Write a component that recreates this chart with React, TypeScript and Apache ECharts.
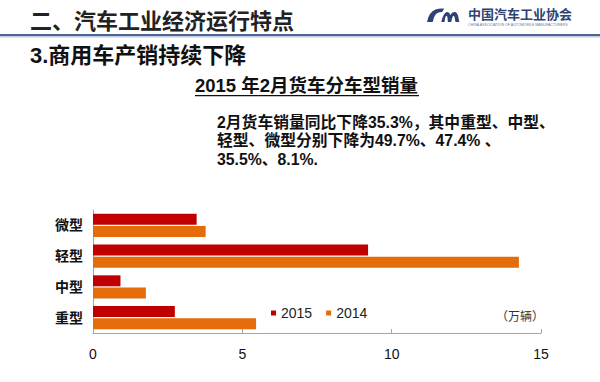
import React, { useEffect, useRef } from "react";
import * as echarts from "echarts";

const categories = ["重型", "中型", "轻型", "微型"];
const sales2015 = [2.74, 0.92, 9.21, 3.47];
const sales2014 = [5.46, 1.77, 14.26, 3.77];
const xTicks = { min: 0, max: 15, interval: 5 };
const seriesNames = ["2015", "2014"];

const FONT = '"Liberation Sans", "Noto Sans CJK SC", sans-serif';

const logoPath =
  "M0,14 Q2,4 9,1.5 Q13,0 18,0.5 L16,4 Q12,3.8 9.5,6 Q7,8.5 6,14 Z " +
  "M15,14 Q17,5 21,4 Q23.5,3.5 24.5,7 Q26.5,3.5 29.5,4 Q32,4.5 33,9 L34,14 L30,14 L29,9 Q28.5,7.5 27.5,8 Q26.5,9 25.5,14 L22,14 L21.5,9 Q21,7.5 20,8 Q19,9 18.5,14 Z";

echarts.graphic.registerShape("logo", (echarts.graphic as any).extendPath(logoPath, {}));

export default function App() {
  const ref = useRef<HTMLDivElement>(null);
  useEffect(() => {
    if (!ref.current) return;
    const chart = echarts.init(ref.current, null, { renderer: "svg" });
    chart.setOption({
      animation: false,
      backgroundColor: "#ffffff",
      textStyle: { fontFamily: FONT },
      grid: { left: 93, right: 59, top: 210, bottom: 49 },
      legend: {
        data: seriesNames,
        left: 266,
        top: 301,
        itemWidth: 5,
        itemHeight: 5,
        itemGap: 14,
        icon: "rect",
        textStyle: { fontSize: 14, color: "#222", fontFamily: FONT },
      },
      xAxis: {
        type: "value",
        min: xTicks.min,
        max: xTicks.max,
        interval: xTicks.interval,
        axisLine: { show: true, lineStyle: { color: "#a6a6a6", width: 1 } },
        axisTick: { show: true, inside: true, length: 4, lineStyle: { color: "#a6a6a6" } },
        splitLine: { show: false },
        axisLabel: { fontSize: 14, color: "#111", margin: 14, fontFamily: FONT },
      },
      yAxis: {
        type: "category",
        data: categories,
        axisLine: { show: true, lineStyle: { color: "#a6a6a6", width: 1 } },
        axisTick: { show: false },
        axisLabel: { fontSize: 14, fontWeight: "bold", color: "#111", margin: 10, fontFamily: FONT },
      },
      series: [
        {
          name: "2015",
          type: "bar",
          data: sales2015,
          barWidth: 11,
          barGap: "10%",
          itemStyle: { color: "#c00000" },
        },
        {
          name: "2014",
          type: "bar",
          data: sales2014,
          barWidth: 11,
          barGap: "10%",
          itemStyle: { color: "#e46c0a" },
        },
      ],
      graphic: [
        {
          type: "text",
          left: 30,
          top: 10,
          style: { text: "二、汽车工业经济运行特点", font: `bold 22px ${FONT}`, fill: "#222" },
        },
        { type: "rect", shape: { x: 0, y: 34, width: 600, height: 2 }, style: { fill: "#4a6792" } },
        { type: "rect", shape: { x: 0, y: 36, width: 600, height: 1.5 }, style: { fill: "#c3cde0" } },
        {
          type: "logo",
          x: 427,
          y: 8,
          scaleX: 0.95,
          scaleY: 1,
          style: { fill: "#2d4275" },
        },
        {
          type: "text",
          left: 468,
          top: 8,
          style: { text: "中国汽车工业协会", font: `bold 13px ${FONT}`, fill: "#2d4275" },
        },
        {
          type: "text",
          left: 468,
          top: 23,
          style: {
            text: "CHINA ASSOCIATION OF AUTOMOBILE MANUFACTURERS",
            font: `3.6px ${FONT}`,
            fill: "#6a7a9a",
          },
        },
        {
          type: "text",
          left: 30,
          top: 44,
          style: { text: "3.商用车产销持续下降", font: `bold 22px ${FONT}`, fill: "#111" },
        },
        {
          type: "text",
          left: 195,
          top: 76,
          style: { text: "2015 年2月货车分车型销量", font: `bold 18.5px ${FONT}`, fill: "#111" },
        },
        { type: "rect", shape: { x: 195, y: 95, width: 224, height: 1.3 }, style: { fill: "#111" } },
        {
          type: "text",
          left: 217,
          top: 115,
          style: { text: "2月货车销量同比下降35.3%，其中重型、中型、", font: `bold 15.8px ${FONT}`, fill: "#111" },
        },
        {
          type: "text",
          left: 217,
          top: 133,
          style: { text: "轻型、微型分别下降为49.7%、47.4% 、", font: `bold 15.8px ${FONT}`, fill: "#111" },
        },
        {
          type: "text",
          left: 217,
          top: 152,
          style: { text: "35.5%、8.1%.", font: `bold 15.8px ${FONT}`, fill: "#111" },
        },
        {
          type: "text",
          left: 496,
          top: 311,
          style: { text: "（万辆）", font: `12px ${FONT}`, fill: "#333" },
        },
      ],
    });
    return () => chart.dispose();
  }, []);
  return <div ref={ref} style={{ width: 600, height: 382, position: "absolute", left: 0, top: 0 }} />;
}
